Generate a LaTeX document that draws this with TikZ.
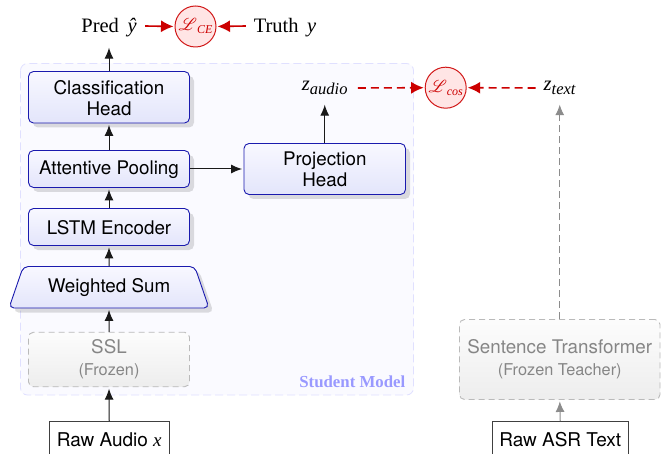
\documentclass[tikz,border=0pt]{standalone}
\usepackage{mathrsfs}
\usepackage{fontspec}
\setmainfont{Liberation Serif}
\newfontfamily\hv{TeX Gyre Heros}
\newcommand{\smalltxt}{\hv\fontsize{16.3}{18}\selectfont}
\newcommand{\lowr}{\rule{0pt}{15.5pt}}
\newcommand{\lowp}{\rule{0pt}{17.5pt}}
\newcommand{\subt}[1]{\raisebox{-3.5pt}{\fontsize{16.5}{18}\selectfont\textit{#1}}}
\newcommand{\lossl}[1]{{\fontsize{17}{20}\selectfont$\mathscr{L}$}\raisebox{-3pt}{\fontsize{12}{14}\selectfont\textit{#1}}}
\usetikzlibrary{arrows.meta,shapes.geometric,shadows,positioning}
\definecolor{bdblue}{HTML}{1A1AAE}
\definecolor{lowblue}{HTML}{E3E5FB}
\definecolor{topblue}{HTML}{F8F8FF}
\definecolor{lossred}{HTML}{CC0000}
\definecolor{frozentxt}{HTML}{868686}
\tikzset{
  shad/.style={drop shadow={shadow xshift=4.5pt,shadow yshift=-4.5pt,opacity=.13,fill=black}},
  blk/.style={draw=bdblue,line width=.9pt,rounded corners=5pt,top color=topblue,bottom color=lowblue,shad,
    font=\hv\fontsize{18.8}{21}\selectfont,align=center,inner sep=0pt},
  frozen/.style={draw=black!27,dash pattern=on 6pt off 4pt,line width=.9pt,rounded corners=5pt,top color=black!1,bottom color=black!7,
    text=frozentxt,align=center,inner sep=0pt,font=\hv\fontsize{18.8}{21}\selectfont},
  rawbox/.style={draw=black!75,line width=.9pt,fill=white,inner sep=0pt,font=\hv\fontsize{19}{21}\selectfont},
  lossc/.style={circle,draw=lossred!90,line width=1pt,fill=red!10,text=lossred,minimum size=41pt,inner sep=0pt},
  plain/.style={inner sep=0pt,font=\fontsize{20.5}{22}\selectfont},
  arr/.style={-{Latex[length=11pt,width=9pt]},line width=1pt,draw=black!90,shorten >=1.5pt},
  redarr/.style={-{Latex[length=12.5pt,width=12pt]},line width=1.6pt,draw=lossred,shorten >=1pt},
  reddash/.style={redarr,dash pattern=on 8pt off 5pt},
  grayarr/.style={-{Latex[length=10.5pt,width=9pt]},line width=1pt,draw=black!45,shorten >=1.5pt},
  graydash/.style={grayarr,dash pattern=on 7pt off 4pt},
}
\begin{document}
\begin{tikzpicture}[x=1pt,y=-1pt]
\useasboundingbox (0,0) rectangle (668,454);
\fill[white] (0,0) rectangle (668,454);
\draw[draw=blue!12,fill=blue!2,dash pattern=on 8pt off 4pt,line width=.8pt,rounded corners=7pt] (20.5,63.5) rectangle (413.5,395);
\node[anchor=east,text=blue!40,inner sep=0pt,font=\fontsize{16.8}{18}\selectfont\bfseries] (stud) at (405.5,381.5) {Student Model};

\node[blk,minimum width=161pt,minimum height=51.5pt] (cls) at (109,97.25) {\lowr Classification\\Head};
\node[blk,minimum width=161pt,minimum height=37pt] (att) at (109,169) {\lowr Attentive Pooling};
\node[blk,minimum width=161pt,minimum height=37pt] (lstm) at (109,227) {\lowr LSTM Encoder};
\node[blk,trapezium,trapezium left angle=71,trapezium right angle=71,text height=15pt,text depth=4pt,inner xsep=24.5pt,inner ysep=11.25pt] (ws) at (109,287.25) {Weighted Sum};
\node[frozen,minimum width=161pt,minimum height=54.5pt] (ssl) at (109,359.5) {SSL\\[1pt]{\smalltxt (Frozen)}};
\node[rawbox,minimum width=119.5pt,minimum height=36pt,anchor=north] (raw) at (109.25,421) {Raw Audio {\rmfamily\itshape x}};
\node[blk,minimum width=161.5pt,minimum height=51pt] (proj) at (324.75,169) {Projection\\Head};

\node[frozen,minimum width=200.5pt,minimum height=80pt] (st) at (559.75,359.5) {Sentence Transformer\\[1pt]{\smalltxt (Frozen Teacher)}};
\node[rawbox,minimum width=136.5pt,minimum height=36pt,anchor=north] (asr) at (560.25,421) {Raw ASR Text};

\node[plain,minimum width=72pt,minimum height=40pt] (pred) at (109,26) {\lowp Pred\, \textit{ŷ}};
\node[plain,minimum width=78pt,minimum height=40pt] (truth) at (285,26) {\lowp Truth\, \textit{y}};
\node[lossc] (lce) at (195.5,26.5) {\lossl{CE}};
\node[lossc] (lcos) at (445.7,87.7) {\lossl{cos}};
\node[plain,minimum width=66pt,minimum height=30pt] (za) at (324.75,88) {\textit{z}\subt{audio}};
\node[plain,minimum width=48pt,minimum height=30pt] (zt) at (559.75,88) {\textit{z}\subt{text}};

\draw[arr] (raw.north) -- (ssl.south);
\draw[arr] (ssl.north) -- (ws.south);
\draw[arr] (ws.north) -- (lstm.south);
\draw[arr] (lstm.north) -- (att.south);
\draw[arr] (att.north) -- (cls.south);
\draw[arr] (cls.north) -- (pred.south);
\draw[arr] (att.east) -- (proj.west);
\draw[arr] (proj.north) -- (za.south);
\draw[grayarr] (asr.north) -- (st.south);
\draw[graydash] (st.north) -- (zt.south);
\draw[redarr] (pred.east) -- (lce.west);
\draw[redarr] (truth.west) -- (lce.east);
\draw[reddash] (za.east) -- (lcos.west);
\draw[reddash] (zt.west) -- (lcos.east);
\end{tikzpicture}
\end{document}
